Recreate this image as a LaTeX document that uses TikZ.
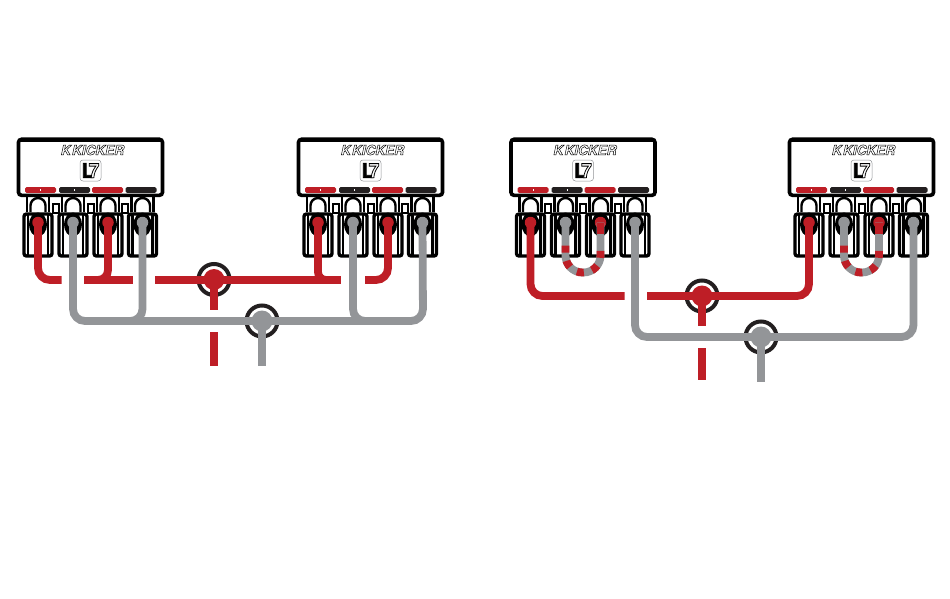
\documentclass[tikz,border=0pt]{standalone}
\usepackage{fontspec}
\setmainfont{TeX Gyre Heros}
\newfontfamily\kickerfont[BoldItalicFeatures={FakeBold=3.5}]{TeX Gyre Heros}
\newfontfamily\ellfont[BoldFeatures={FakeBold=4}]{TeX Gyre Heros}
\definecolor{wred}{HTML}{BE1E26}
\definecolor{wgray}{HTML}{939598}
\definecolor{ink}{HTML}{231F20}
\newcommand{\outlined}[1]{\special{pdf:bcolor [1] [0]}#1\special{pdf:ecolor}}
\tikzset{
  redwire/.style={draw=wred,line width=7.8pt,line cap=butt,rounded corners=12pt},
  graywire/.style={draw=wgray,line width=7.8pt,line cap=butt,rounded corners=12pt},
  linkdash/.style={draw=wred,line width=7.8pt,line cap=butt,dash pattern=on 7pt off 8.5pt,rounded corners=17pt},
  ampbody/.style={draw=black,line width=3.6pt,fill=white,rounded corners=3pt,minimum width=144pt,minimum height=56pt,inner sep=0pt},
  lamp/.style={rounded corners=1.5pt,minimum width=31pt,minimum height=5.6pt,inner sep=0pt},
  ring/.style={circle,draw=ink,fill=white,line width=4pt,minimum size=31pt,inner sep=0pt},
  hub/.style={circle,minimum size=21pt,inner sep=0pt},
  block/.style={draw=black,line width=3.4pt,fill=white,rounded corners=2.5pt,minimum width=28pt,minimum height=42pt,inner sep=0pt},
  socket/.style={ellipse,fill=black,minimum width=18pt,minimum height=24pt,inner sep=0pt},
  head/.style={circle,minimum size=11.5pt,inner sep=0pt},
  tline/.style={draw=black,line width=2.4pt},
  badge/.style={draw=wgray,line width=.5pt,fill=white,rounded corners=3pt,minimum width=21pt,minimum height=21pt,inner sep=0pt},
}
\usetikzlibrary{shapes.geometric}
% one terminal: #1 name, #2 x centre, #3 wire colour
\newcommand{\terminalunit}[3]{%
  \draw[tline] (#2-11,196) -- (#2-11,212);
  \draw[tline] (#2+11,196) -- (#2+11,212);
  \draw[tline] (#2-7.5,212) -- (#2-7.5,205.5) arc[start angle=180,end angle=0,radius=7.5pt] -- (#2+7.5,212);
  \node[block] (#1b) at (#2,235) {};
  \draw[draw=black,line width=2.4pt] (#2-10,213) -- (#2-10,256);
  \draw[draw=black,line width=2.4pt] (#2+10,213) -- (#2+10,256);
  \node[socket] (#1s) at (#2,224.5) {};
  \node[head,fill=#3] (#1) at (#2,222.5) {};
}
% one amplifier: #1 name prefix, #2 x offset
\newcommand{\ampunit}[2]{%
  \begin{scope}[xshift=#2pt]
    \foreach \gx in {55.5,90.5,125} {\draw[draw=black,line width=2pt,fill=white] (\gx-3,204) rectangle (\gx+3,213);}
    \terminalunit{#1t1}{38}{wred}
    \terminalunit{#1t2}{73}{wgray}
    \terminalunit{#1t3}{108}{wred}
    \terminalunit{#1t4}{142.5}{wgray}
    \node[ampbody] (#1) at (90.5,167.3) {};
    \draw[draw=black,line width=2.4pt] (18.5,141) -- (162.5,141);
    \node[lamp,fill=wred] (#1l1) at (40.5,190) {};
    \node[lamp,fill=ink] (#1l2) at (74.5,190) {};
    \node[lamp,fill=wred] (#1l3) at (107.5,190) {};
    \node[lamp,fill=ink] (#1l4) at (141,190) {};
    \fill[white] (40,189.2) rectangle (41.2,190.8);
    \fill[white] (74,189.2) rectangle (75.2,190.8);
    \node[inner sep=0pt,font=\kickerfont\bfseries\itshape\fontsize{13.6}{14}\selectfont] (#1k) at (92.5,150) {\outlined{K\kern-1pt\,KICKER}};
    \node[badge] (#1b) at (90.5,170.5) {};
    \node[inner sep=0pt,xscale=.95,font=\ellfont\bfseries\fontsize{20}{22}\selectfont] (#1e) at (90.5,170.5) {L\kern-5pt\outlined{7}};
  \end{scope}
}
\begin{document}
\begin{tikzpicture}[x=1pt,y=-1pt]
\useasboundingbox (0,0) rectangle (950,599);
\fill[white] (0,0) rectangle (950,599);
\ampunit{a}{0}
\ampunit{b}{280}
\ampunit{c}{492.5}
\ampunit{d}{771}
% junctions
\node[ring] (rj1) at (214,279.5) {};
\node[ring] (gj1) at (262,321) {};
\node[ring] (rj2) at (702,296) {};
\node[ring] (gj2) at (761,337) {};
\node[hub,fill=wred] (rh1) at (rj1) {};
\node[hub,fill=wgray] (gh1) at (gj1) {};
\node[hub,fill=wred] (rh2) at (rj2) {};
\node[hub,fill=wgray] (gh2) at (gj2) {};
% free ends, left diagram
\coordinate (r1) at (61.5,280);
\coordinate (r2) at (84,280);
\coordinate (r3) at (133,280);
\coordinate (r4) at (155,280);
\coordinate (r5) at (341,280);
\coordinate (r6) at (365,280);
\coordinate (r7) at (214,310);
\coordinate (r8) at (214,332);
\coordinate (r9) at (214,366);
\coordinate (g1) at (262,366);
\coordinate (gb) at (73,321);
\coordinate (gc) at (423,321);
\coordinate (gl) at (110,321);
\coordinate (gr) at (385,321);
\coordinate (r3j) at (90,280);
\coordinate (r5j) at (330,280);
% free ends, right diagram
\coordinate (s1) at (624.5,296);
\coordinate (s2) at (647,296);
\coordinate (s3) at (530.5,296);
\coordinate (s4) at (809,296);
\coordinate (s5) at (702,326);
\coordinate (s6) at (702,348);
\coordinate (s7) at (702,380);
\coordinate (h1) at (761,382);
\coordinate (h2) at (635,337);
\coordinate (h3) at (913.5,337);
% left wires
\draw[redwire] (at1.center) |- (r1);
\draw[redwire,rounded corners=10pt] (at3.center) |- (r3j);
\draw[redwire] (r2) -- (r3);
\draw[redwire] (r4) -- (r5);
\draw[redwire,rounded corners=8pt] (bt1.center) |- (r5j);
\draw[redwire] (bt3.center) |- (r6);
\draw[redwire] (rh1.center) -- (r7);
\draw[redwire] (r8) -- (r9);
\draw[graywire] (at2.center) -- (gb) -- (gc) -- (bt4.center);
\draw[graywire] (at4.center) |- (gl);
\draw[graywire] (bt2.center) |- (gr);
\draw[graywire] (gh1.center) -- (g1);
% right wires
\draw[redwire] (ct1.center) -- (s3) -- (s1);
\draw[redwire] (s2) -- (s4) -- (dt1.center);
\draw[redwire] (rh2.center) -- (s5);
\draw[redwire] (s6) -- (s7);
\draw[graywire] (ct4.center) -- (h2) -- (h3) -- (dt4.center);
\draw[graywire] (gh2.center) -- (h1);
% dashed links
\foreach \pa/\pb/\lx in {ct2/ct3/c,dt2/dt3/d}{
  \draw[graywire,rounded corners=17pt] (\pa.center) -- ++(0,50) -- ++(35,0) -- (\pb.center);
  \draw[redwire] (\pb.center) -- ++(0,11);
  \draw[linkdash] (\pa.center) ++(0,23) -- ++(0,27) -- ++(35,0) -- ++(0,-29);
}
\end{tikzpicture}
\end{document}
